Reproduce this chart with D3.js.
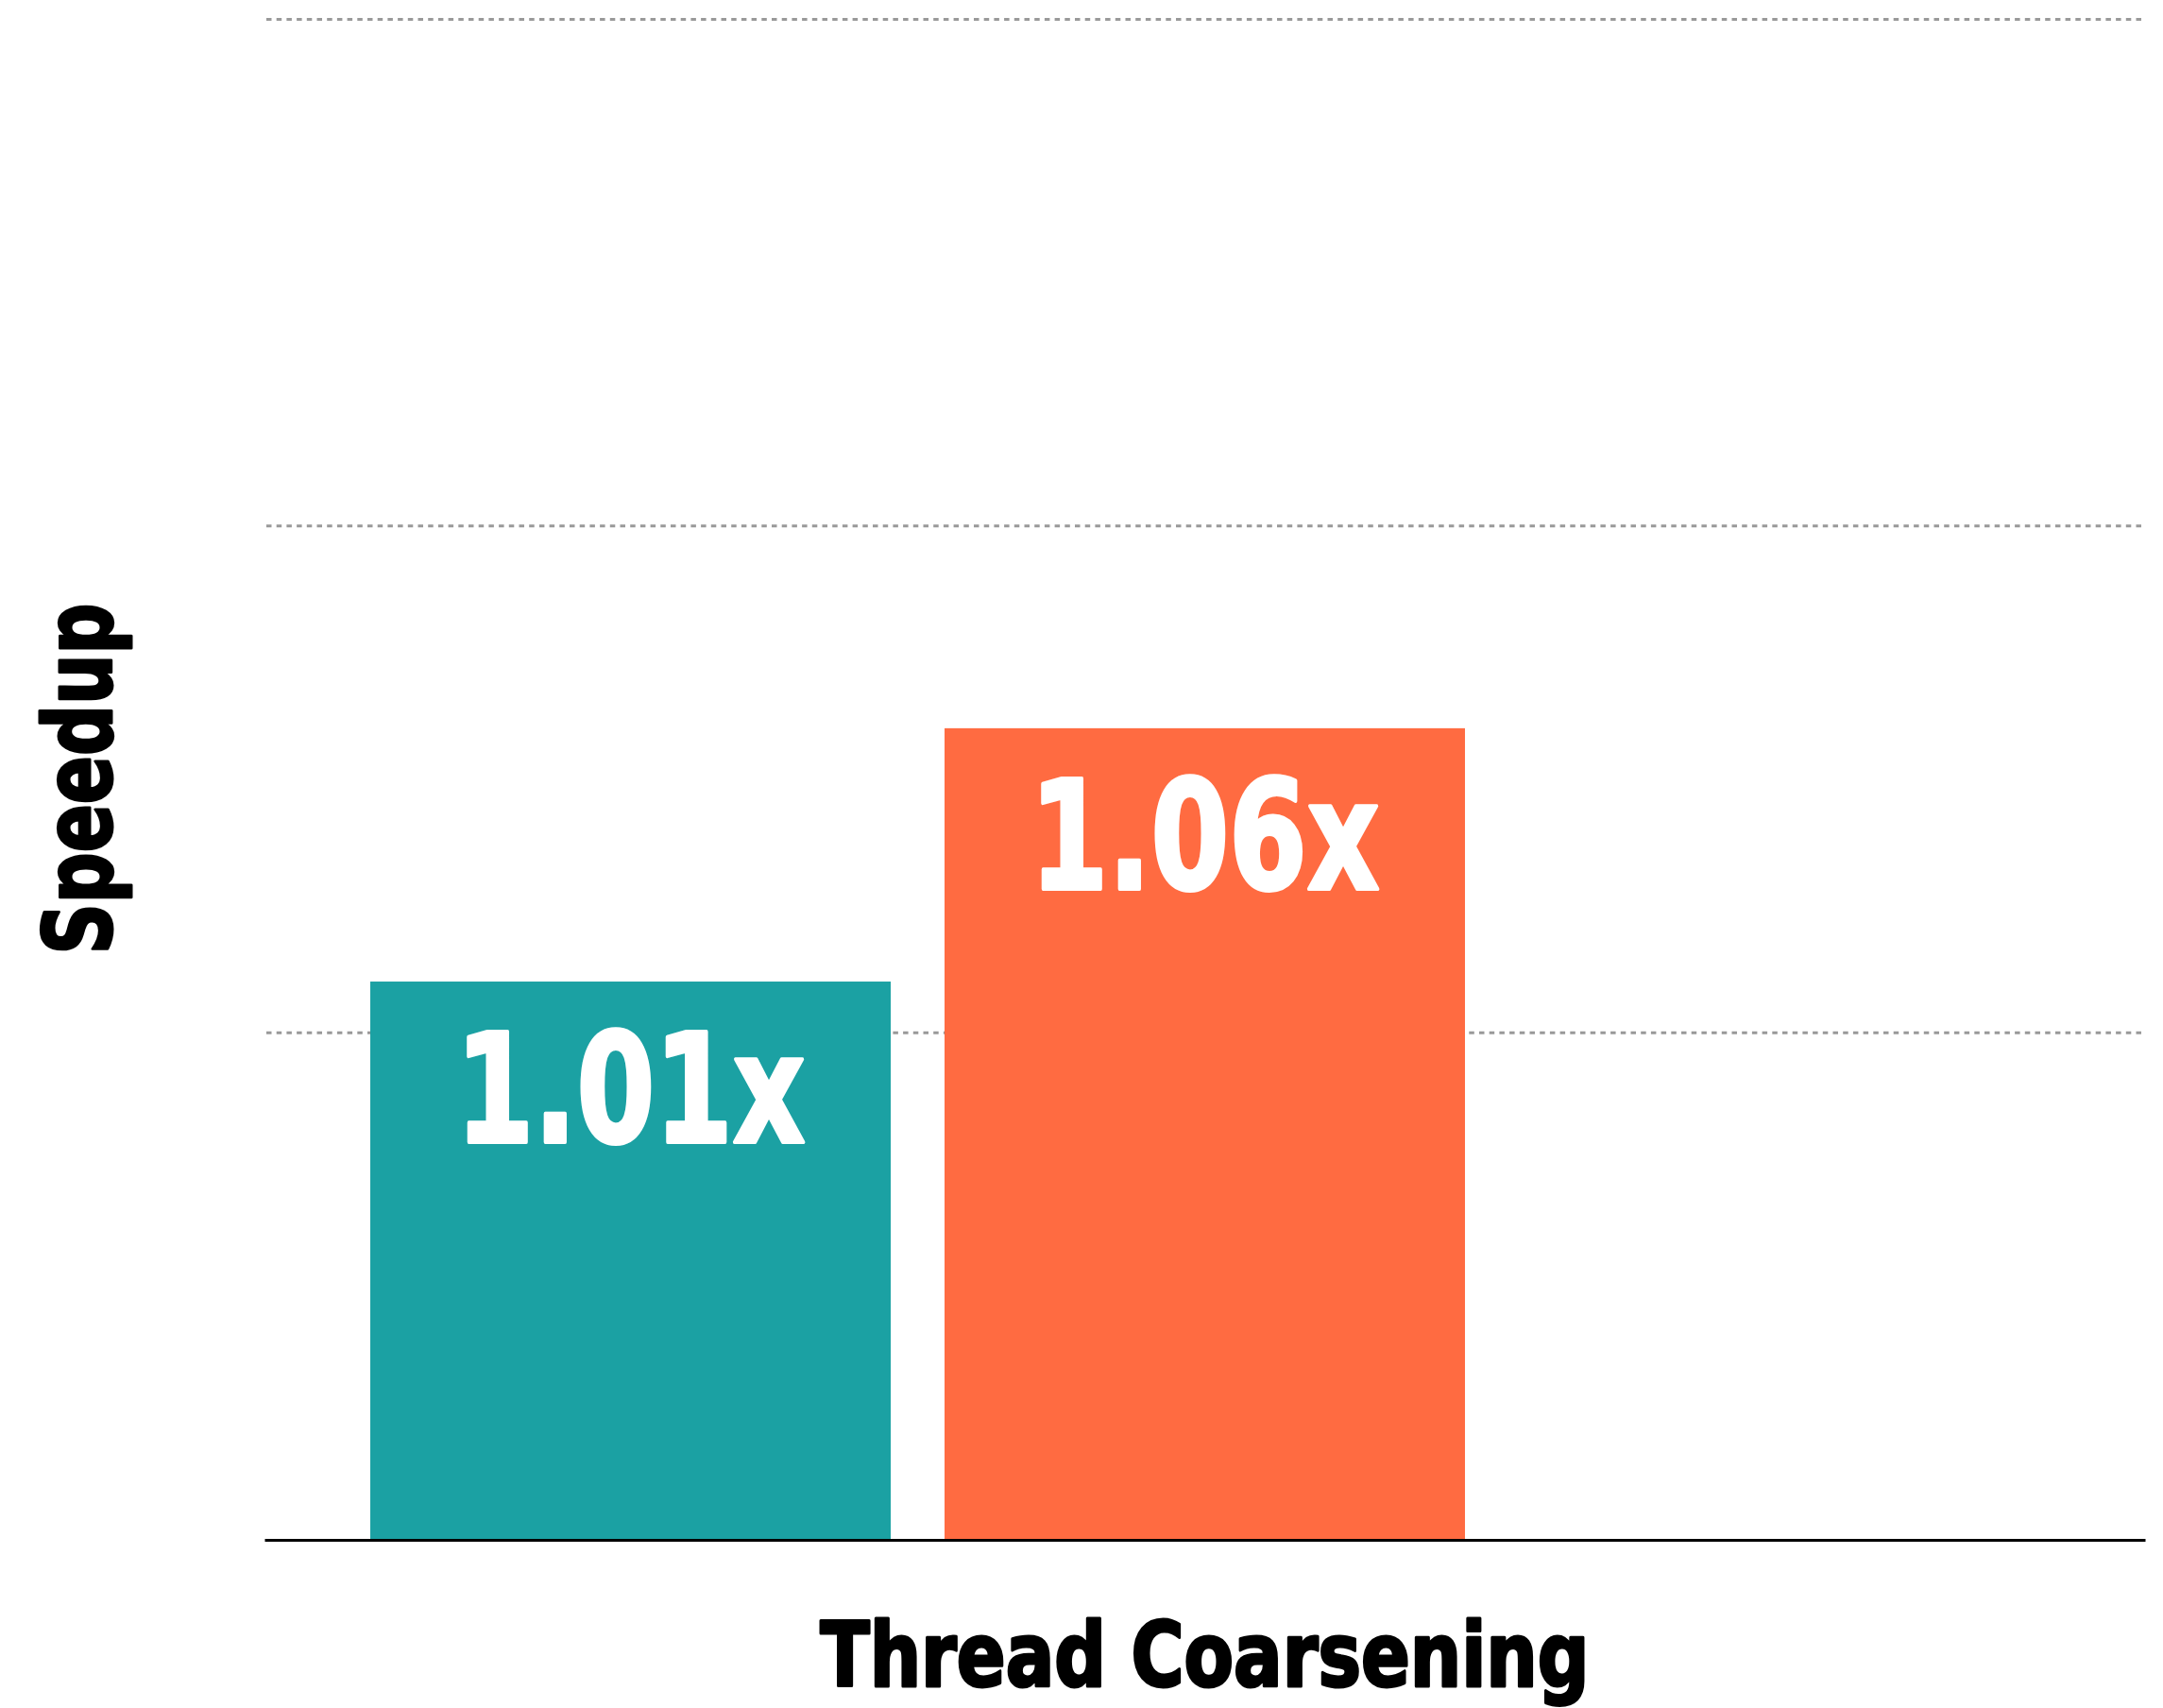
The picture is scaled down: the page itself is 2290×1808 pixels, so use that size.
<!DOCTYPE html>
<html>
<head>
<meta charset="utf-8">
<script src="https://cdn.jsdelivr.net/npm/d3@7"></script>
<style>
  html, body { margin: 0; padding: 0; background: #ffffff; }
  svg { display: block; }
  .heavy { font-family: "Liberation Sans Narrow", "DejaVu Sans Condensed", "Liberation Sans", sans-serif; font-weight: bold; }
</style>
</head>
<body>
<svg id="chart" width="2290" height="1808"></svg>
<script>
// Speedup per variant, one category with three bar slots (last slot empty)
const categories = ["Thread Coarsening"];
const seriesNames = ["baseline", "coarsened", "extra"];
const seriesValues = [1.01, 1.06, null];
const seriesColors = ["#1ba1a3", "#ff6b41", "#8c8c8c"];
const gridTicks = [1.0, 1.1, 1.2];
const yDomain = [0.9, 1.2];
const yLabel = "Speedup";

const W = 2290, H = 1808;
const margin = { top: 20, right: 19, bottom: 179, left: 280 };
const innerW = W - margin.left - margin.right;
const innerH = H - margin.top - margin.bottom;

const svg = d3.select("#chart");
const g = svg.append("g").attr("transform", `translate(${margin.left},${margin.top})`);

const y = d3.scaleLinear().domain(yDomain).range([innerH, 0]);
const x0 = d3.scaleBand().domain(categories).range([0, innerW]).paddingInner(0).paddingOuter(0.0634);
const x1 = d3.scaleBand().domain(seriesNames).range([0, x0.bandwidth()]).paddingInner(0.0938).paddingOuter(0);

// dotted horizontal gridlines
const grid = g.append("g")
  .call(d3.axisLeft(y).tickValues(gridTicks).tickSize(-innerW).tickFormat(""));
grid.select(".domain").remove();
grid.selectAll(".tick line")
  .attr("stroke", "#999999")
  .attr("stroke-width", 3)
  .attr("stroke-dasharray", "5.5,5.2")
  .attr("x1", 2)
  .attr("x2", innerW - 3);

const rows = categories.map(c => seriesNames.map((s, i) => ({ cat: c, key: s, value: seriesValues[i], color: seriesColors[i] })));

const groups = g.selectAll(".group")
  .data(rows)
  .join("g")
  .attr("class", "group")
  .attr("transform", (d, i) => `translate(${x0(categories[i])},0)`);

const bars = groups.selectAll("g.bar")
  .data(d => d.filter(v => v.value != null))
  .join("g")
  .attr("class", "bar");

bars.append("rect")
  .attr("x", d => x1(d.key))
  .attr("width", x1.bandwidth())
  .attr("y", d => y(d.value))
  .attr("height", d => innerH - y(d.value))
  .attr("fill", d => d.color);

bars.append("text")
  .attr("class", "heavy")
  .attr("x", d => x1(d.key) + x1.bandwidth() / 2)
  .attr("y", d => y(d.value) + 170)
  .attr("text-anchor", "middle")
  .attr("font-size", 160)
  .attr("fill", "#ffffff")
  .attr("stroke", "#ffffff")
  .attr("stroke-width", 4)
  .attr("stroke-linejoin", "round")
  .attr("textLength", 370)
  .attr("lengthAdjust", "spacingAndGlyphs")
  .text(d => d.value.toFixed(2) + "x");

// bottom axis: solid baseline plus category label
const xAxis = g.append("g")
  .attr("transform", `translate(0,${innerH})`)
  .call(d3.axisBottom(x0).tickSize(0).tickSizeOuter(0));
xAxis.select(".domain")
  .attr("stroke", "#000000")
  .attr("stroke-width", 3)
  .attr("transform", "translate(0,1)");
xAxis.selectAll(".tick text")
  .attr("class", "heavy")
  .attr("dy", null)
  .attr("y", 156)
  .attr("font-size", 94)
  .attr("fill", "#000000")
  .attr("stroke", "#000000")
  .attr("stroke-width", 3)
  .attr("stroke-linejoin", "round")
  .attr("textLength", 814)
  .attr("lengthAdjust", "spacingAndGlyphs");

// rotated y-axis title
svg.append("text")
  .attr("class", "heavy")
  .attr("transform", `translate(118,${margin.top + innerH / 2}) rotate(-90)`)
  .attr("text-anchor", "middle")
  .attr("font-size", 100)
  .attr("fill", "#000000")
  .attr("stroke", "#000000")
  .attr("stroke-width", 3)
  .attr("stroke-linejoin", "round")
  .attr("textLength", 372)
  .attr("lengthAdjust", "spacingAndGlyphs")
  .text(yLabel);
</script>
</body>
</html>
